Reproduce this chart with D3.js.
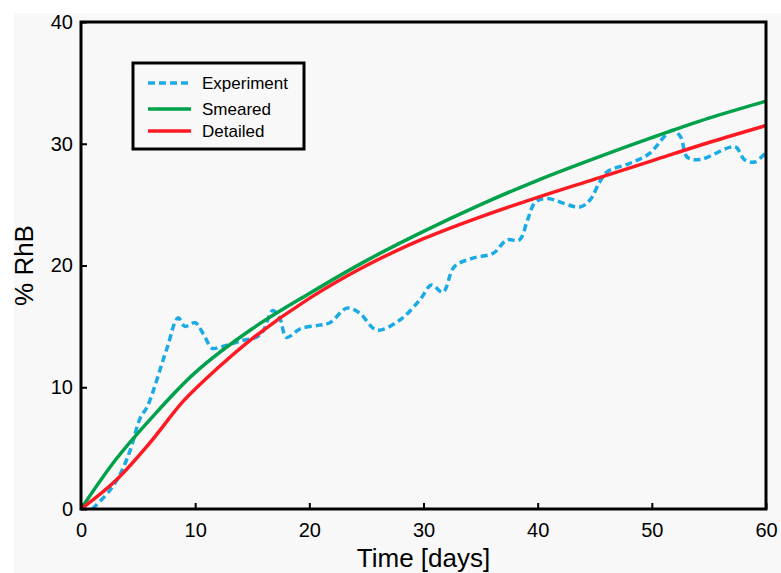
<!DOCTYPE html>
<html>
<head>
<meta charset="utf-8">
<script src="https://cdnjs.cloudflare.com/ajax/libs/d3/7.8.5/d3.min.js"></script>
<style>
  body { margin: 0; background: #ffffff; }
  text { font-family: 'Liberation Sans', Arial, sans-serif; }
</style>
</head>
<body>
<div id="graf"></div>
<script>
// Datos: tiempo [días] vs % RhB

// Experimento (línea discontinua)
expT = [1, 2.5, 3.4, 4.3, 5.2, 5.8, 7.5, 8.5, 9.1, 10, 10.7, 11.5, 12.2, 14, 15.7, 16.8, 17.4, 18.0, 19.2, 20.9, 21.8, 23.3, 24.4, 25.9, 27.9, 29.7, 30.7, 31.7, 32.7, 34.3, 36.1, 37.3, 38.4, 39.1, 39.8, 40.8, 43.7, 44.6, 45.4, 46.1, 48.1, 49.8, 51.1, 51.8, 52.5, 53.1, 54.2, 56.8, 57.4, 58.1, 59, 60]
expV = [0, 1.5, 2.8, 4.8, 7.5, 8.4, 13.1, 15.7, 15.0, 15.3, 14.4, 13.2, 13.3, 13.8, 14.3, 16.3, 15.7, 14.1, 14.8, 15.1, 15.3, 16.5, 16.1, 14.7, 15.5, 17.2, 18.4, 17.8, 19.9, 20.6, 21.0, 22.1, 22.1, 23.7, 25.2, 25.5, 24.8, 25.4, 26.8, 27.7, 28.4, 29.2, 30.6, 31.1, 30.6, 28.9, 28.7, 29.7, 29.7, 28.7, 28.5, 29.3]

// Modelo "Smeared"
smT = [0, 3, 6, 10, 15, 20, 25, 30, 35, 40, 45, 50, 55, 60]
smV = [0, 4.0, 7.3, 11.2, 14.8, 17.7, 20.4, 22.8, 25.0, 27.0, 28.8, 30.5, 32.1, 33.5]

// Modelo "Detailed"
deT = [0, 3, 6, 9, 12, 15, 20, 25, 30, 35, 40, 45, 50, 55, 60]
deV = [0, 2.3, 5.4, 8.9, 11.6, 14.0, 17.3, 20.0, 22.2, 24.0, 25.6, 27.1, 28.6, 30.1, 31.5]

xTicks = [0, 10, 20, 30, 40, 50, 60]
yTicks = [0, 10, 20, 30, 40]

series = [
  { nombre: 'Experiment', t: expT, v: expV, color: '#1aabe6', dash: '7,4' },
  { nombre: 'Smeared',    t: smT,  v: smV,  color: '#00a14b', dash: null },
  { nombre: 'Detailed',   t: deT,  v: deV,  color: '#fe1a22', dash: null }
]

ancho_total = 781
alto_total  = 573
margins = { top: 22, left: 81, right: 15, bottom: 64 }
ancho = ancho_total - margins.left - margins.right
alto  = alto_total - margins.top - margins.bottom

svg = d3.select('#graf').append('svg')
        .attr('width', ancho_total)
        .attr('height', alto_total)

// fondo gris claro
svg.append('rect')
   .attr('x', 14).attr('y', 13)
   .attr('width', ancho_total - 14).attr('height', alto_total - 13)
   .attr('fill', '#f8f8f8')

g = svg.append('g')
       .attr('transform', `translate(${margins.left}, ${margins.top})`)

x = d3.scaleLinear().domain([0, 60]).range([0, ancho])
y = d3.scaleLinear().domain([0, 40]).range([alto, 0])

g.append('clipPath').attr('id', 'clip')
  .append('rect').attr('x', 0).attr('y', -5).attr('width', ancho).attr('height', alto + 5)

// curvas
linea = d3.line().curve(d3.curveCatmullRom.alpha(0.5))
          .x(d => x(d[0])).y(d => y(d[1]))

series.forEach(s => {
  g.append('path')
    .datum(s.t.map((t, i) => [t, s.v[i]]))
    .attr('d', linea)
    .attr('fill', 'none')
    .attr('stroke', s.color)
    .attr('stroke-width', 3.5)
    .attr('stroke-dasharray', s.dash)
    .attr('clip-path', 'url(#clip)')
})

// ejes con marcas hacia dentro
xAxis = d3.axisBottom(x).tickValues(xTicks).tickSize(-6).tickPadding(14).tickSizeOuter(0)
yAxis = d3.axisLeft(y).tickValues(yTicks).tickSize(-6).tickPadding(8).tickSizeOuter(0)

gx = g.append('g').attr('transform', `translate(0,${alto})`).call(xAxis)
gy = g.append('g').call(yAxis)

;[gx, gy].forEach(a => {
  a.select('.domain').remove()
  a.selectAll('line').attr('stroke', 'black').attr('stroke-width', 2)
  a.selectAll('text').attr('font-size', '20px').attr('fill', 'black')
    .style('font-family', "'Liberation Sans', Arial, sans-serif")
})

// marco
g.append('rect')
  .attr('x', 0).attr('y', 0)
  .attr('width', ancho).attr('height', alto)
  .attr('fill', 'none').attr('stroke', 'black').attr('stroke-width', 3)

// títulos de ejes
g.append('text')
  .attr('x', ancho / 2).attr('y', alto + 58)
  .attr('text-anchor', 'middle')
  .attr('font-size', '26px')
  .text('Time [days]')

g.append('text')
  .attr('transform', `translate(-48, ${alto / 2}) rotate(-90)`)
  .attr('text-anchor', 'middle')
  .attr('font-size', '26px')
  .text('% RhB')

// leyenda
leg = svg.append('g').attr('transform', 'translate(133, 63)')
leg.append('rect')
   .attr('width', 171).attr('height', 86)
   .attr('fill', 'none').attr('stroke', 'black').attr('stroke-width', 3)

series.forEach((s, i) => {
  yy = [20, 46, 68][i]
  leg.append('line')
    .attr('x1', 15).attr('x2', 58).attr('y1', yy).attr('y2', yy)
    .attr('stroke', s.color).attr('stroke-width', 3.5)
    .attr('stroke-dasharray', s.dash)
  leg.append('text')
    .attr('x', 69).attr('y', yy + 6)
    .attr('font-size', '17px')
    .text(s.nombre)
})
</script>
</body>
</html>
